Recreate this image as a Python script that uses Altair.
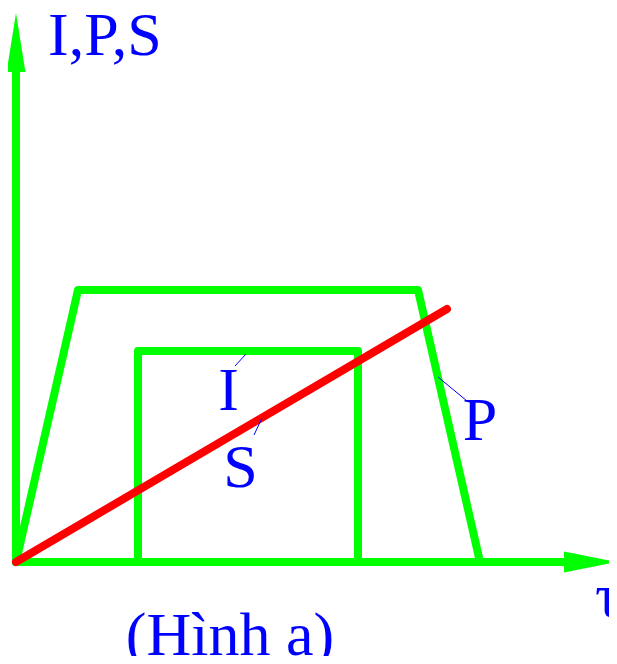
import altair as alt
import pandas as pd

# ---- data (τ units, value units) ----
tau_P = [0, 6.2, 40.2, 46.4]
val_P = [0, 27.2, 27.2, 0]
tau_I = [12.2, 12.2, 34.2, 34.2]
val_I = [0, 21.1, 21.1, 0]
tau_S = [0, 43.1]
val_S = [0, 25.3]

axis_tau = [0, 0, 54.8]
axis_val = [49.0, 0, 0]
head_x_tau = [57.45]
head_x_val = [0]
head_y_tau = [0]
head_y_val = [51.95]

labels = ["I", "S", "P"]
label_tau = [21.25, 22.45, 46.4]
label_val = [15.2, 7.5, 12.2]
leader_tau = [23.0, 24.6, 42.2]
leader_val = [20.8, 14.4, 18.5]
leader_tau2 = [21.9, 23.8, 45.1]
leader_val2 = [19.6, 12.7, 16.1]

y_title = ["I,P,S"]
y_title_tau = [3.2]
y_title_val = [50.7]
x_title = ["τ"]
x_title_tau = [57.9]
x_title_val = [-5.4]
caption = ["(Hình a)"]
caption_tau = [21.4]
caption_val = [-9.3]

GREEN = "#00FF00"
RED = "#FF0000"
BLUE = "#0000FF"
FONT = "Liberation Serif"

xs = alt.Scale(domain=[-0.8, 59.3], nice=False, zero=False)
ys = alt.Scale(domain=[-9.4, 55.4], nice=False, zero=False)


def X(f="t"):
    return alt.X(f"{f}:Q", scale=xs, axis=None)


def Y(f="v"):
    return alt.Y(f"{f}:Q", scale=ys, axis=None)


def poly(t, v):
    return pd.DataFrame({"t": t, "v": v, "i": list(range(len(t)))})


axes = alt.Chart(poly(axis_tau, axis_val)).mark_line(
    color=GREEN, strokeWidth=8, strokeJoin="round", strokeCap="round"
).encode(x=X(), y=Y(), order="i:O")

head_x = alt.Chart(pd.DataFrame({"t": head_x_tau, "v": head_x_val})).mark_point(
    shape="M1,0L-1,-0.4L-1,0.4Z", size=2809, filled=True, color=GREEN,
    opacity=1, strokeWidth=0
).encode(x=X(), y=Y())

head_y = alt.Chart(pd.DataFrame({"t": head_y_tau, "v": head_y_val})).mark_point(
    shape="M0,-1L0.32,1L-0.32,1Z", size=3481, filled=True, color=GREEN,
    opacity=1, strokeWidth=0
).encode(x=X(), y=Y())

p_line = alt.Chart(poly(tau_P, val_P)).mark_line(
    color=GREEN, strokeWidth=8, strokeJoin="round", strokeCap="round"
).encode(x=X(), y=Y(), order="i:O")

i_line = alt.Chart(poly(tau_I, val_I)).mark_line(
    color=GREEN, strokeWidth=8, strokeJoin="round", strokeCap="round"
).encode(x=X(), y=Y(), order="i:O")

s_line = alt.Chart(poly(tau_S, val_S)).mark_line(
    color=RED, strokeWidth=8, strokeCap="round"
).encode(x=X(), y=Y(), order="i:O")

leaders = alt.Chart(pd.DataFrame({
    "t": leader_tau, "v": leader_val, "t2": leader_tau2, "v2": leader_val2
})).mark_rule(color=BLUE, strokeWidth=1).encode(
    x=X(), y=Y(), x2="t2:Q", y2="v2:Q"
)

curve_labels = alt.Chart(pd.DataFrame({
    "t": label_tau, "v": label_val, "s": labels
})).mark_text(
    font=FONT, fontSize=62, color=BLUE, align="center", baseline="alphabetic"
).encode(x=X(), y=Y(), text="s:N")

ytitle = alt.Chart(pd.DataFrame({
    "t": y_title_tau, "v": y_title_val, "s": y_title
})).mark_text(
    font=FONT, fontSize=62, color=BLUE, align="left", baseline="alphabetic"
).encode(x=X(), y=Y(), text="s:N")

xtitle = alt.Chart(pd.DataFrame({
    "t": x_title_tau, "v": x_title_val, "s": x_title
})).mark_text(
    font=FONT, fontSize=62, color=BLUE, align="left", baseline="alphabetic"
).encode(x=X(), y=Y(), text="s:N")

cap = alt.Chart(pd.DataFrame({
    "t": caption_tau, "v": caption_val, "s": caption
})).mark_text(
    font=FONT, fontSize=62, color=BLUE, align="center", baseline="alphabetic"
).encode(x=X(), y=Y(), text="s:N")

chart = alt.layer(
    axes, head_x, head_y, p_line, i_line, s_line, leaders,
    curve_labels, ytitle, xtitle, cap
).properties(
    width=601, height=648, padding=0,
    autosize=alt.AutoSizeParams(type="none"),
    background="white"
).configure_view(strokeWidth=0)

chart.save("out.html", embed_options={"renderer": "svg", "actions": False})
